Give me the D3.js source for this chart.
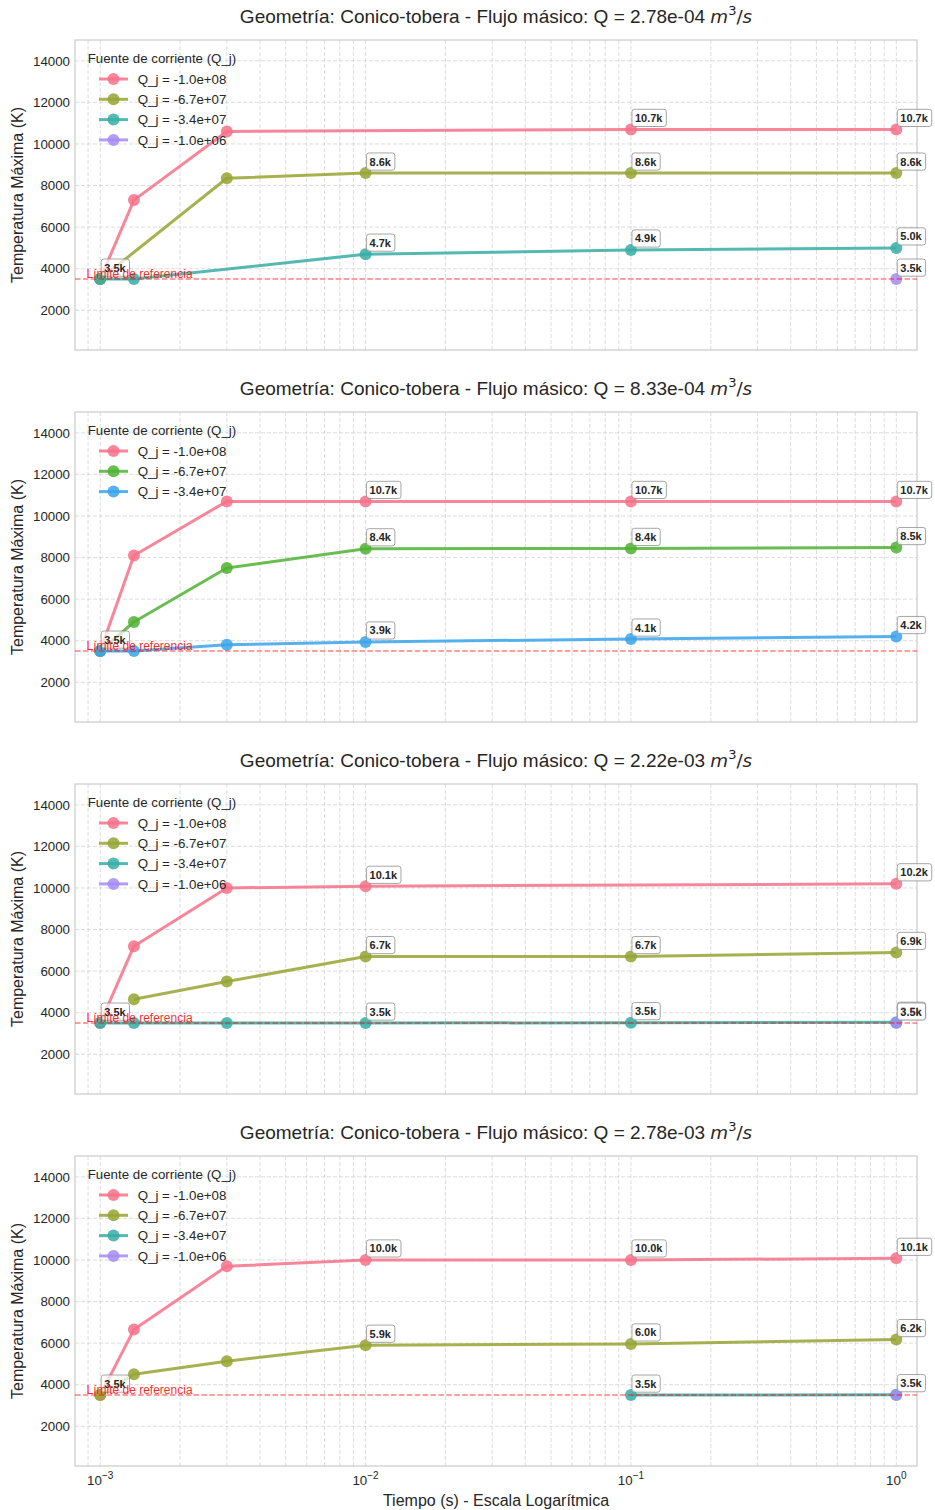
<!DOCTYPE html>
<html>
<head>
<meta charset="utf-8">
<script src="https://cdn.jsdelivr.net/npm/d3@7"></script>
<style>
  html, body { margin: 0; padding: 0; background: #ffffff; }
  svg { display: block; }
</style>
</head>
<body>
<div id="chart"></div>
<script>
// ---------------- DATA ----------------
const times = [0.001, 0.00134, 0.003, 0.01, 0.1, 1];
const flowLabels = ["2.78e-04", "8.33e-04", "2.22e-03", "2.78e-03"];
const sourceLabels = ["Q_j = -1.0e+08", "Q_j = -6.7e+07", "Q_j = -3.4e+07", "Q_j = -1.0e+06"];
const labelTimes = [0.001, 0.01, 0.1, 1];
const referenceLimit = 3500;
const yTicks = [2000, 4000, 6000, 8000, 10000, 12000, 14000];
const xTicks = [0.001, 0.01, 0.1, 1];
const xTickExp = ["\u22123", "\u22122", "\u22121", "0"];

// panel 1 : Q = 2.78e-04
const p1Q1 = [3500, 7300, 10600, null, 10700, 10700];
const p1Q2 = [3500, null, 8350, 8600, 8600, 8600];
const p1Q3 = [3500, 3500, null, 4700, 4900, 5000];
const p1Q4 = [null, null, null, null, null, 3500];
// panel 2 : Q = 8.33e-04
const p2Q1 = [3500, 8100, 10700, 10700, 10700, 10700];
const p2Q2 = [3500, 4900, 7500, 8420, 8440, 8480];
const p2Q3 = [3500, 3500, 3800, 3940, 4080, 4200];
// panel 3 : Q = 2.22e-03
const p3Q1 = [3500, 7200, 10000, 10080, null, 10200];
const p3Q2 = [null, 4650, 5500, 6700, 6700, 6900];
const p3Q3 = [3500, 3500, 3500, 3500, 3520, 3540];
const p3Q4 = [null, null, null, null, null, 3500];
// panel 4 : Q = 2.78e-03
const p4Q1 = [3500, 6650, 9700, 10000, 10000, 10080];
const p4Q2 = [3500, 4500, 5130, 5900, 5960, 6170];
const p4Q3 = [null, null, null, null, 3500, 3520];
const p4Q4 = [null, null, null, null, null, 3500];

const palette4 = ["#f77189", "#97a431", "#36ada4", "#a48cf4"];
const palette3 = ["#f77189", "#50b131", "#3ba3ec"];

const panels = [
  { flow: flowLabels[0], series: [p1Q1, p1Q2, p1Q3, p1Q4], colors: palette4 },
  { flow: flowLabels[1], series: [p2Q1, p2Q2, p2Q3], colors: palette3 },
  { flow: flowLabels[2], series: [p3Q1, p3Q2, p3Q3, p3Q4], colors: palette4 },
  { flow: flowLabels[3], series: [p4Q1, p4Q2, p4Q3, p4Q4], colors: palette4 }
];

// ---------------- LAYOUT ----------------
const W = 935, H = 1510;
const FONT = "'Liberation Sans', Arial, sans-serif";
const TXT = "#262626";
const left = 75, right = 917;
const top0 = 40, step = 372, ph = 310;

const svg = d3.select("#chart").append("svg")
  .attr("width", W).attr("height", H)
  .attr("font-family", FONT);

svg.append("rect").attr("width", W).attr("height", H).attr("fill", "#ffffff");

const x = d3.scaleLog().domain([Math.pow(10, -3.095), Math.pow(10, 0.078)]).range([left, right]);

// minor + major grid positions
const gridX = [];
for (let e = -4; e <= 0; e++) {
  for (let k = 1; k <= 9; k++) {
    const v = k * Math.pow(10, e);
    if (v > x.domain()[0] && v < x.domain()[1]) gridX.push(v);
  }
}

panels.forEach((p, pi) => {
  const top = top0 + pi * step;
  const bottom = top + ph;
  const y = d3.scaleLinear().domain([90, 15000]).range([bottom, top]);
  const g = svg.append("g");

  const clipId = "clip" + pi;
  svg.append("clipPath").attr("id", clipId)
    .append("rect").attr("x", left).attr("y", top).attr("width", right - left).attr("height", ph);

  // grid
  const grid = g.append("g");
  grid.selectAll("line.gx").data(gridX).enter().append("line")
    .attr("x1", d => x(d)).attr("x2", d => x(d)).attr("y1", top).attr("y2", bottom)
    .attr("stroke", "#cccccc").attr("stroke-opacity", 0.75).attr("stroke-width", 0.9)
    .attr("stroke-dasharray", "4,2");
  grid.selectAll("line.gy").data(yTicks).enter().append("line")
    .attr("x1", left).attr("x2", right).attr("y1", d => y(d)).attr("y2", d => y(d))
    .attr("stroke", "#cccccc").attr("stroke-opacity", 0.75).attr("stroke-width", 0.9)
    .attr("stroke-dasharray", "4,2");

  // y axis
  const yAxis = d3.axisLeft(y).tickValues(yTicks).tickSize(0).tickPadding(5).tickFormat(d3.format("d"));
  const ya = g.append("g").attr("transform", `translate(${left},0)`).call(yAxis);
  ya.select(".domain").remove();
  ya.selectAll("text").attr("font-size", 13.3).attr("fill", TXT).attr("font-family", FONT);

  // frame
  g.append("rect").attr("x", left).attr("y", top).attr("width", right - left).attr("height", ph)
    .attr("fill", "none").attr("stroke", "#cccccc").attr("stroke-width", 1.25);

  // series
  const plot = g.append("g").attr("clip-path", `url(#${clipId})`);
  p.series.forEach((vals, si) => {
    const pts = times.map((t, i) => ({ t, v: vals[i] })).filter(d => d.v !== null);
    const line = d3.line().x(d => x(d.t)).y(d => y(d.v));
    plot.append("path").datum(pts).attr("d", line)
      .attr("fill", "none").attr("stroke", p.colors[si]).attr("stroke-width", 3)
      .attr("stroke-opacity", 0.85).attr("stroke-linejoin", "round");
    plot.selectAll(null).data(pts).enter().append("circle")
      .attr("cx", d => x(d.t)).attr("cy", d => y(d.v)).attr("r", 6)
      .attr("fill", p.colors[si]).attr("fill-opacity", 0.85);
  });

  // reference line
  plot.append("line").attr("x1", left).attr("x2", right)
    .attr("y1", y(referenceLimit)).attr("y2", y(referenceLimit))
    .attr("stroke", "#ff0000").attr("stroke-opacity", 0.5).attr("stroke-width", 1.5)
    .attr("stroke-dasharray", "5.5,2.4");

  // value labels (identical labels at the same spot are drawn once)
  const lab = g.append("g");
  const seen = new Set();
  p.series.forEach((vals, si) => {
    times.forEach((t, i) => {
      if (vals[i] === null || labelTimes.indexOf(t) < 0) return;
      const px = x(t), py = y(vals[i]);
      const s = (vals[i] / 1000).toFixed(1) + "k";
      const key = s + "@" + Math.round(px) + "," + Math.round(py);
      if (seen.has(key)) return;
      seen.add(key);
      const lg = lab.append("g");
      const rect = lg.append("rect");
      const txt = lg.append("text").attr("x", px + 4).attr("y", py - 7.5)
        .attr("font-size", 11).attr("font-weight", "bold").attr("fill", TXT)
        .text(s);
      const bb = txt.node().getBBox();
      rect.attr("x", bb.x - 3).attr("y", bb.y - 2.6).attr("width", bb.width + 6).attr("height", bb.height + 5.2)
        .attr("rx", 2.5).attr("fill", "#ffffff").attr("fill-opacity", 0.7)
        .attr("stroke", "#808080").attr("stroke-opacity", 0.7).attr("stroke-width", 1);
    });
  });

  // reference text
  g.append("text").attr("x", left + 11.5).attr("y", y(referenceLimit) - 1.5)
    .attr("font-size", 12).attr("fill", "#ff0000").attr("fill-opacity", 0.85)
    .text("L\u00edmite de referencia");

  // legend
  const lgd = g.append("g");
  lgd.append("text").attr("x", left + 12.7).attr("y", top + 23)
    .attr("font-size", 13.3).attr("fill", TXT).text("Fuente de corriente (Q_j)");
  p.series.forEach((vals, si) => {
    const cy = top + 39 + si * 20.3;
    lgd.append("line").attr("x1", left + 24).attr("x2", left + 53).attr("y1", cy).attr("y2", cy)
      .attr("stroke", p.colors[si]).attr("stroke-width", 3).attr("stroke-opacity", 0.85);
    lgd.append("circle").attr("cx", left + 38.5).attr("cy", cy).attr("r", 6)
      .attr("fill", p.colors[si]).attr("fill-opacity", 0.85);
    lgd.append("text").attr("x", left + 62.7).attr("y", cy + 4.7)
      .attr("font-size", 13.3).attr("fill", TXT).text(sourceLabels[si]);
  });

  // title
  const title = g.append("text").attr("x", (left + right) / 2).attr("y", top - 17.5)
    .attr("text-anchor", "middle").attr("font-size", 19).attr("fill", TXT);
  title.append("tspan").text("Geometr\u00eda: Conico-tobera - Flujo m\u00e1sico: Q = " + p.flow + " ");
  title.append("tspan").attr("font-style", "italic").attr("font-family", "'DejaVu Sans'").attr("font-size", 18.3).text("m");
  title.append("tspan").attr("dy", -7.5).attr("font-size", 13).attr("font-family", "'DejaVu Sans'").text("3");
  title.append("tspan").attr("dy", 7.5).attr("font-family", "'DejaVu Sans'").attr("font-size", 18.3).text("/");
  title.append("tspan").attr("font-style", "italic").attr("font-family", "'DejaVu Sans'").attr("font-size", 18.3).text("s");

  // y label
  g.append("text").attr("transform", `translate(23,${(top + bottom) / 2}) rotate(-90)`)
    .attr("text-anchor", "middle").attr("font-size", 16).attr("fill", TXT)
    .text("Temperatura M\u00e1xima (K)");

  // x ticks only on last panel
  if (pi === panels.length - 1) {
    xTicks.forEach((t, i) => {
      const tt = g.append("text").attr("x", x(t)).attr("y", bottom + 18.5)
        .attr("text-anchor", "middle").attr("font-size", 13.3).attr("fill", TXT);
      tt.append("tspan").text("10");
      tt.append("tspan").attr("dy", -5.5).attr("font-size", 10).text(xTickExp[i]);
    });
    g.append("text").attr("x", (left + right) / 2).attr("y", bottom + 39.5)
      .attr("text-anchor", "middle").attr("font-size", 16).attr("fill", TXT)
      .text("Tiempo (s) - Escala Logar\u00edtmica");
  }
});
</script>
</body>
</html>
